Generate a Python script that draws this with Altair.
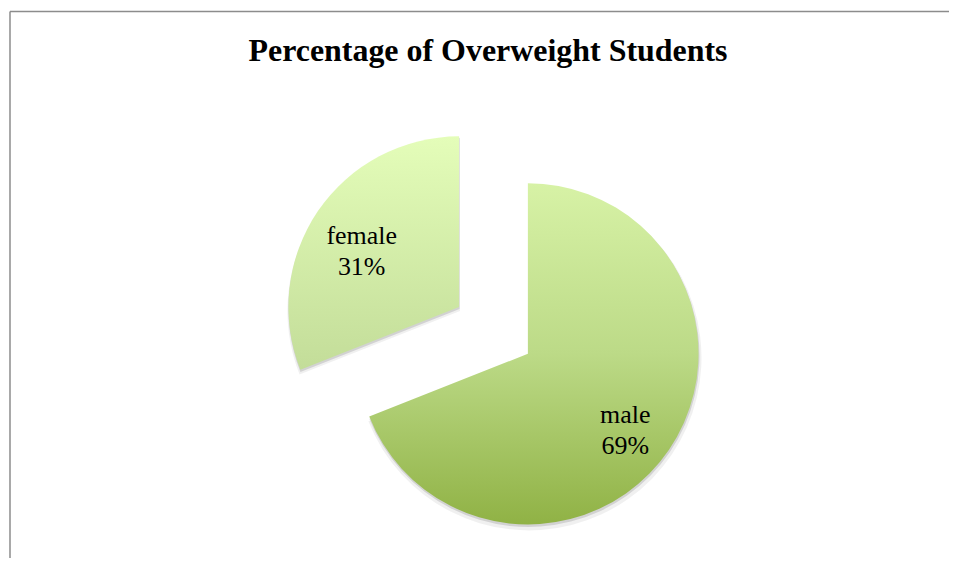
import altair as alt
import pandas as pd

# ---- data ----
categories = ["male", "female"]
percents = [69, 31]
title_text = "Percentage of Overweight Students"

df = pd.DataFrame({"category": categories, "pct": percents})

# ---- layout (not data) ----
W, H = 941, 547
CX, CY = 484.5, 319.5      # pie centre in view coordinates
EXPLODE = 41.7             # explosion distance of each slice
R = 171                    # slice radius
R_LABEL = 118              # label distance from slice vertex

grad_male = {
    "gradient": "linear", "x1": 0, "x2": 0, "y1": 0, "y2": 1,
    "stops": [{"offset": 0, "color": "#D7F2A6"},
              {"offset": 0.5, "color": "#BCDA87"},
              {"offset": 1, "color": "#90B245"}],
}
grad_female = {
    "gradient": "linear", "x1": 0, "x2": 0, "y1": 0, "y2": 1,
    "stops": [{"offset": 0, "color": "#E4FDB9"},
              {"offset": 1, "color": "#C3DD99"}],
}

base = (
    alt.Chart(df)
    .transform_joinaggregate(total="sum(pct)")
    .transform_window(cum="sum(pct)",
                      sort=[alt.SortField("category", order="descending")],
                      frame=[None, 0])
    .transform_calculate(end="2*PI*datum.cum/datum.total")
    .transform_calculate(start="2*PI*(datum.cum-datum.pct)/datum.total")
    .transform_calculate(mid="(datum.start+datum.end)/2")
    .transform_calculate(cx=f"{CX}+{EXPLODE}*sin(datum.mid)")
    .transform_calculate(cy=f"{CY}-{EXPLODE}*cos(datum.mid)")
    .transform_calculate(lx=f"datum.cx+{R_LABEL}*sin(datum.mid)")
    .transform_calculate(ly=f"datum.cy-{R_LABEL}*cos(datum.mid)-5")
    .transform_calculate(label="datum.category + '\\n' + datum.pct + '%'")
)

pos = dict(
    theta=alt.Theta("start:Q", scale=None),
    theta2=alt.Theta2("end:Q"),
    x=alt.X("cx:Q", scale=None, axis=None),
    y=alt.Y("cy:Q", scale=None, axis=None),
)

shadow1 = base.mark_arc(radius=R + 2, fill="#000000", fillOpacity=0.06, yOffset=4, xOffset=1).encode(**pos)
shadow2 = base.mark_arc(radius=R + 0.5, fill="#000000", fillOpacity=0.12, yOffset=2, xOffset=0.5).encode(**pos)

slices = base.mark_arc(radius=R, stroke=None).encode(
    **pos,
    fill=alt.condition(alt.datum.category == "male",
                       alt.value(grad_male), alt.value(grad_female)),
)

labels = base.mark_text(
    font="Liberation Serif", fontSize=26, lineBreak="\n", lineHeight=31,
    align="center", baseline="middle", color="#000000",
).encode(
    x=alt.X("lx:Q", scale=None, axis=None),
    y=alt.Y("ly:Q", scale=None, axis=None),
    text="label:N",
)

title = alt.Chart(pd.DataFrame({"t": [title_text]})).mark_text(
    font="Liberation Serif", fontSize=32, fontWeight="bold",
    align="center", baseline="alphabetic", color="#000000",
).encode(text="t:N", x=alt.value(479), y=alt.value(50))

frame_df = pd.DataFrame({"k": [0]})
left_line = alt.Chart(frame_df).mark_rule(color="#8C8C8C", strokeWidth=1.5).encode(
    x=alt.value(0), y=alt.value(0), y2=alt.value(H + 20))
top_line = alt.Chart(frame_df).mark_rule(color="#8C8C8C", strokeWidth=1.5).encode(
    x=alt.value(0), x2=alt.value(W + 5), y=alt.value(0))

chart = alt.layer(shadow1, shadow2, slices, labels, title, left_line, top_line).properties(
    width=W, height=H,
    padding={"left": 2, "top": 3, "right": 0, "bottom": 0},
    autosize=alt.AutoSizeParams(type="none"),
).configure_view(stroke=None)

chart.save("out.html", embed_options={"renderer": "svg", "actions": False})
